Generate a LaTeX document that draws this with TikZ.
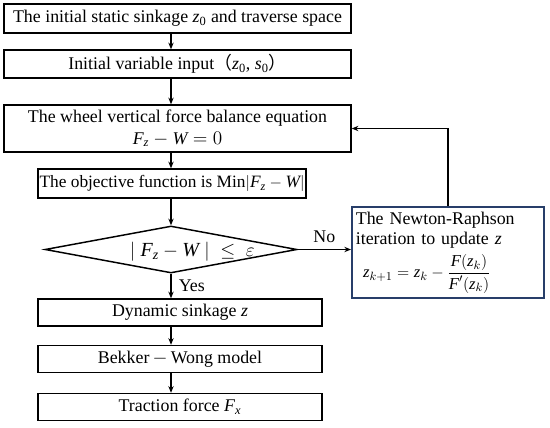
\documentclass[tikz,border=0pt]{standalone}
\usepackage{amsmath}
\usepackage{amssymb}
\usepackage{fontspec}
\setmainfont{Liberation Serif}
\newfontfamily\cjk{Noto Sans CJK SC}
\usepackage{tikz}
\usetikzlibrary{arrows.meta,shapes.geometric}

\tikzset{
  flowbox/.style={draw,line width=1.1pt,rectangle,inner sep=0.75pt,align=center,font=\fontsize{13.4}{15}\selectfont},
  flowarrow/.style={line width=1pt,-{Stealth[length=5pt,width=4pt]}},
}
\newcommand{\vi}[1]{\textit{#1}}

\begin{document}
\begin{tikzpicture}[x=0.75pt,y=0.75pt,yscale=-1,xscale=1]
\useasboundingbox (0,0) rectangle (550,428);

% Main column
\coordinate (spine) at (171,0);
\node [flowbox,minimum width=260.25pt,minimum height=21.75pt] (start) at (177.5,18.5) {The initial static sinkage \vi{z}\textsubscript{0} and traverse space};
\node [flowbox,minimum width=260.25pt,minimum height=21pt] (input) at (177.5,64) {Initial variable input{\cjk （}\vi{z}\textsubscript{0}, \vi{s}\textsubscript{0}{\cjk ）}};
\node [flowbox,minimum width=260.25pt,minimum height=35.25pt] (balance) at (177.5,128.5) {The wheel vertical force balance equation\\[1pt] $\vi{F}_{\vi{z}}-\vi{W}=0$};
\node [flowbox,font=\fontsize{13}{15}\selectfont,inner sep=0pt,minimum width=201pt,minimum height=21.75pt] (objective) at (172,183.5) {The objective function is Min$\left|\vi{F}_{\vi{z}}-\vi{W}\right|$};
\node [flowbox,shape=diamond,aspect=5,inner sep=0pt,minimum width=189pt,minimum height=35.25pt,
  label={[font=\fontsize{15}{17}\selectfont,xshift=16pt,yshift=-1.5pt]center:$\left|\;\vi{F}_{\vi{z}}-\vi{W}\;\right|\;\le\;\varepsilon$}] (check) at (171,249.5) {};
\node [flowbox,minimum width=213pt,minimum height=20.25pt] (sinkage) at (180,312.5) {Dynamic sinkage \vi{z}};
\node [flowbox,minimum width=213pt,minimum height=20.25pt] (model) at (180,359) {Bekker$\,-\,$Wong model};
\node [flowbox,minimum width=213pt,minimum height=20.25pt] (traction) at (180,407) {Traction force \vi{F}\textsubscript{\vi{x}}};

% Newton-Raphson box
\node [flowbox,draw={rgb, 255:red, 40; green, 62; blue, 105},line width=1.3pt,align=left,anchor=north west,inner sep=3pt,minimum width=144pt,minimum height=68.25pt,text width=138pt] (newton) at (351,206) {The Newton-Raphson\\iteration to update \vi{z}\\[4pt]
\hspace*{0.4em}{\fontsize{12.5}{14}\selectfont$\vi{z}_{k+1}=\vi{z}_{k}-\dfrac{\vi{F}(\vi{z}_{k})}{\vi{F}'(\vi{z}_{k})}$}};

% Connectors
\draw [flowarrow] (start.south -| spine) -- (input.north -| spine);
\draw [flowarrow] (input.south -| spine) -- (balance.north -| spine);
\draw [flowarrow] (balance.south -| spine) -- (objective.north -| spine);
\draw [flowarrow] (objective.south -| spine) -- (check.north);
\draw [flowarrow] (check.south) -- (sinkage.north -| spine) node [midway,right=2pt,font=\fontsize{13.4}{15}\selectfont] {Yes};
\draw [flowarrow] (sinkage.south -| spine) -- (model.north -| spine);
\draw [flowarrow] (model.south -| spine) -- (traction.north -| spine);
\draw [flowarrow] (check.east) -- (check.east -| newton.west) node [midway,above=1pt,font=\fontsize{13.4}{15}\selectfont] {No};
\draw [flowarrow] (newton.north) |- (balance.east);

\end{tikzpicture}
\end{document}
